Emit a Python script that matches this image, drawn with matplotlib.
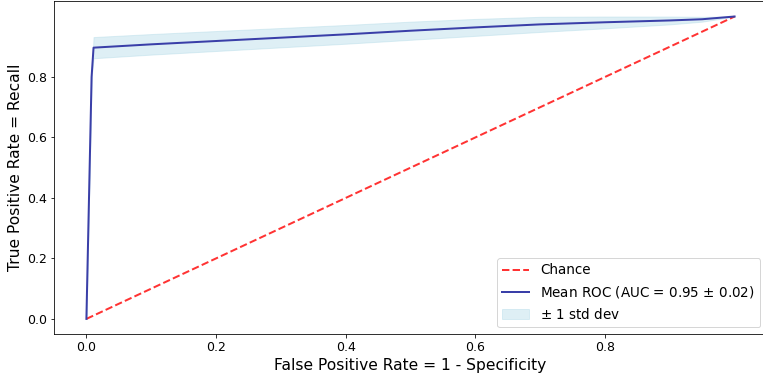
import numpy as np
import matplotlib
matplotlib.use('Agg')
import matplotlib.pyplot as plt

# mean ROC
mean_fpr = [0.0, 0.008, 0.011, 0.1, 0.2, 0.3, 0.4, 0.5, 0.6, 0.7, 0.8, 0.9, 0.95, 1.0]
mean_tpr = [0.0, 0.80, 0.897, 0.908, 0.919, 0.930, 0.941, 0.953, 0.964, 0.974, 0.981, 0.987, 0.991, 1.0]
std_tpr = [0.0, 0.0, 0.035, 0.034, 0.033, 0.032, 0.031, 0.030, 0.028, 0.025, 0.020, 0.013, 0.008, 0.0]

chance_x = [0, 1]
chance_y = [0, 1]

mean_auc = 0.95
std_auc = 0.02

fig = plt.figure(figsize=(763 / 72, 375 / 72), dpi=72)
ax = fig.add_axes([54 / 763, 41 / 375, 713 / 763, 332.6 / 375])

ax.plot(chance_x, chance_y, linestyle='--', lw=2, color='r', alpha=.8, label='Chance')
ax.plot(mean_fpr, mean_tpr, color='#3a3fa8', lw=2,
        label=r'Mean ROC (AUC = %0.2f $\pm$ %0.2f)' % (mean_auc, std_auc))

upper = np.minimum(np.array(mean_tpr) + np.array(std_tpr), 1)
lower = np.maximum(np.array(mean_tpr) - np.array(std_tpr), 0)
ax.fill_between(mean_fpr, lower, upper, color='lightblue', alpha=.4, label=r'$\pm$ 1 std dev')

ax.set_xlim(-0.05, 1.05)
ax.set_ylim(-0.05, 1.05)
ax.set_xticks([0.0, 0.2, 0.4, 0.6, 0.8])
ax.set_yticks([0.0, 0.2, 0.4, 0.6, 0.8])
ax.tick_params(labelsize=12.5)
ax.set_xlabel('False Positive Rate = 1 - Specificity', fontsize=15.5)
ax.set_ylabel('True Positive Rate = Recall', fontsize=15.5)
ax.legend(loc='lower right', fontsize=13.5)

fig.savefig('out.png', dpi=72)
